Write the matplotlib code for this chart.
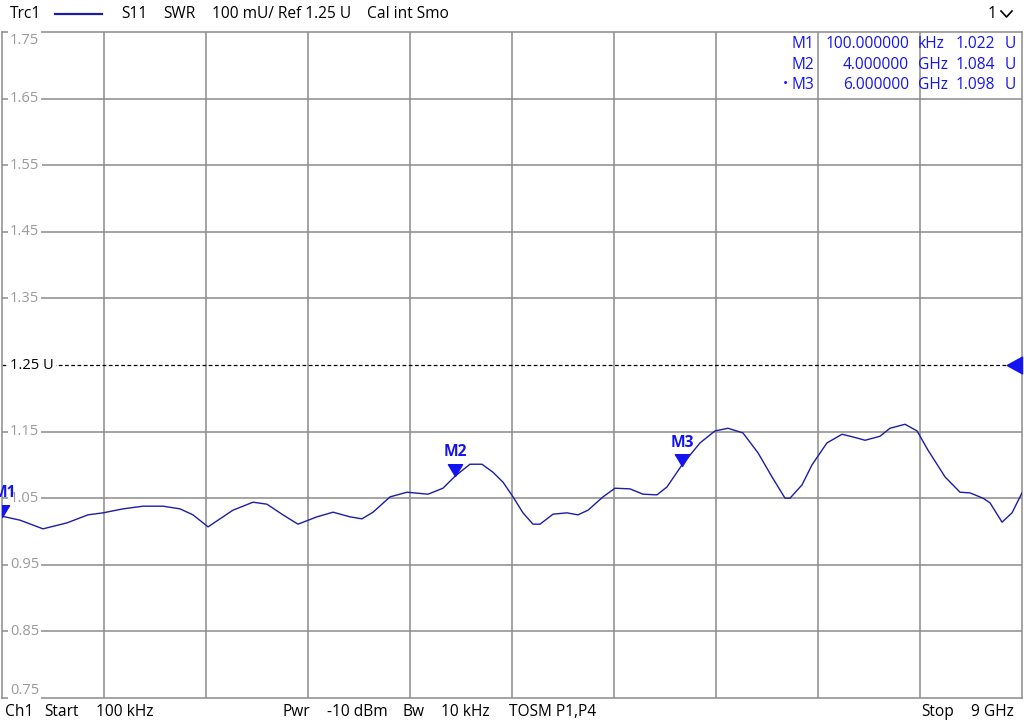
import matplotlib
matplotlib.use("Agg")
import matplotlib.pyplot as plt
from matplotlib.path import Path

plt.rcParams["font.family"] = ["Open Sans", "DejaVu Sans"]

# S11 SWR trace, frequency in GHz
freq_ghz = [0.0001, 0.159, 0.362, 0.574, 0.759, 0.891, 1.068, 1.244, 1.421, 1.571,
            1.685, 1.818, 2.038, 2.215, 2.338, 2.479, 2.612, 2.779, 2.921, 3.071,
            3.176, 3.274, 3.424, 3.574, 3.759, 3.891, 3.997, 4.129, 4.235, 4.332,
            4.421, 4.509, 4.597, 4.685, 4.747, 4.862, 4.985, 5.082, 5.171, 5.303,
            5.409, 5.541, 5.656, 5.779, 5.868, 6.000, 6.159, 6.291, 6.406, 6.538,
            6.671, 6.794, 6.909, 6.953, 7.059, 7.147, 7.279, 7.412, 7.509, 7.615,
            7.747, 7.835, 7.968, 8.074, 8.171, 8.321, 8.453, 8.541, 8.656, 8.718,
            8.824, 8.912, 9.000]
swr = [1.023, 1.017, 1.004, 1.013, 1.025, 1.028, 1.034, 1.038, 1.038, 1.034,
       1.025, 1.007, 1.032, 1.044, 1.041, 1.025, 1.011, 1.022, 1.029, 1.022,
       1.019, 1.029, 1.052, 1.059, 1.056, 1.065, 1.083, 1.101, 1.101, 1.089,
       1.074, 1.052, 1.028, 1.011, 1.011, 1.026, 1.028, 1.025, 1.032, 1.052,
       1.065, 1.064, 1.056, 1.055, 1.067, 1.100, 1.133, 1.151, 1.155, 1.148,
       1.118, 1.082, 1.050, 1.050, 1.070, 1.100, 1.133, 1.146, 1.142, 1.137,
       1.143, 1.155, 1.161, 1.151, 1.122, 1.082, 1.059, 1.058, 1.050, 1.043,
       1.014, 1.028, 1.058]

marker_names = ["M1", "M2", "M3"]
marker_freq = [0.0001, 4.0, 6.0]
marker_swr = [1.022, 1.084, 1.098]
marker_freq_txt = ["100.000000", "4.000000", "6.000000"]
marker_unit = ["kHz", "GHz", "GHz"]

y_ticks = [0.75, 0.85, 0.95, 1.05, 1.15, 1.25, 1.35, 1.45, 1.55, 1.65, 1.75]
ref_level = 1.25
x_divs = [0.9 * i for i in range(11)]

grid_c = "#8c8c8c"
trace_c = "#1c1ca8"
mark_c = "#1414f0"
fs = 11.2

fig = plt.figure(figsize=(10.24, 7.26), dpi=100)
ax = fig.add_axes([2 / 1024, 1 - 698 / 726, 1020 / 1024, 666 / 726])
ax.set_xlim(0.0001, 9.0)
ax.set_ylim(0.75, 1.75)
ax.set_xticks([])
ax.set_yticks([])
for s in ax.spines.values():
    s.set_color(grid_c)
    s.set_linewidth(1.1)

for x in x_divs[1:-1]:
    ax.axvline(x, color=grid_c, lw=1.1, zorder=1)
for y in y_ticks[1:-1]:
    if y != ref_level:
        ax.axhline(y, color=grid_c, lw=1.1, zorder=1)
ax.axhline(ref_level, color="black", lw=0.9, ls=(0, (3, 2)), zorder=1)

# y labels inside the plot
for y in y_ticks:
    yy = y
    if y == y_ticks[-1]:
        yy = y - 0.013
    if y == y_ticks[0]:
        yy = y + 0.012
    if y == ref_level:
        ax.text(0.008, yy, "1.25 U", color="black", fontsize=10.5, va="center", ha="left",
                transform=ax.get_yaxis_transform(), zorder=3,
                bbox=dict(facecolor="white", edgecolor="none", pad=1.5))
    else:
        ax.text(0.008, yy, f"{y:.2f}", color="#9a9a9a", fontsize=10.5, va="center", ha="left",
                transform=ax.get_yaxis_transform(), zorder=3,
                bbox=dict(facecolor="white", edgecolor="none", pad=1.5))

ax.plot(freq_ghz, swr, color=trace_c, lw=1.0, zorder=4)

# marker triangles (tip at the trace)
tri_down = Path([(-0.6, 1.0), (0.6, 1.0), (0.0, 0.0), (-0.6, 1.0)],
                [Path.MOVETO, Path.LINETO, Path.LINETO, Path.CLOSEPOLY])
for name, f, v in zip(marker_names, marker_freq, marker_swr):
    ax.plot([f], [v], marker=tri_down, ms=17, color=mark_c, mec=mark_c, zorder=5)
    dx = 2 if name == "M1" else 0
    ax.annotate(name, (f, v), xytext=(dx, 17), textcoords="offset points",
                ha="center", va="center", color=mark_c, fontsize=fs,
                fontweight="bold", zorder=5, annotation_clip=False)

# reference level arrow at right edge
tri_left = Path([(0.0, -0.55), (0.0, 0.55), (-1.0, 0.0), (0.0, -0.55)],
                [Path.MOVETO, Path.LINETO, Path.LINETO, Path.CLOSEPOLY])
ax.plot([9.0], [ref_level], marker=tri_left, ms=22, color=mark_c, mec=mark_c,
        clip_on=False, zorder=6)

# marker table
rows_y = [44, 65, 85]
for i in range(3):
    ty = 1 - rows_y[i] / 726
    fig.text(814 / 1024, ty, marker_names[i], color=mark_c, fontsize=fs, ha="right", va="center")
    fig.text(909 / 1024, ty, marker_freq_txt[i], color=mark_c, fontsize=fs, ha="right", va="center")
    fig.text(918 / 1024, ty, marker_unit[i], color=mark_c, fontsize=fs, ha="left", va="center")
    fig.text(995 / 1024, ty, f"{marker_swr[i]:.3f}", color=mark_c, fontsize=fs, ha="right", va="center")
    fig.text(1005 / 1024, ty, "U", color=mark_c, fontsize=fs, ha="left", va="center")
fig.text(785 / 1024, 1 - 85 / 726, "\u2022", color=mark_c, fontsize=10, ha="center", va="center")

# header
hy = 1 - 14 / 726
fig.text(10 / 1024, hy, "Trc1", fontsize=fs, va="center")
fig.add_artist(plt.Line2D([55 / 1024, 102 / 1024], [hy, hy], color=trace_c, lw=1.6))
fig.text(121 / 1024, hy, "S11", fontsize=fs, va="center")
fig.text(163 / 1024, hy, "SWR", fontsize=fs, va="center")
fig.text(212 / 1024, hy, "100 mU/ Ref 1.25 U", fontsize=fs, va="center")
fig.text(367 / 1024, hy, "Cal int Smo", fontsize=fs, va="center")
fig.text(992 / 1024, hy, "1", fontsize=fs, va="center", ha="center")
fig.add_artist(plt.Line2D([1001 / 1024, 1006.5 / 1024, 1012 / 1024],
                          [1 - 11 / 726, 1 - 17 / 726, 1 - 11 / 726], color="black", lw=1.2))

# footer
fy = 1 - 712 / 726
footer = [("Ch1", 5), ("Start", 44), ("100 kHz", 96), ("Pwr", 283), ("-10 dBm", 327),
          ("Bw", 403), ("10 kHz", 441), ("TOSM P1,P4", 509), ("Stop", 921), ("9 GHz", 971)]
for txt, x in footer:
    fig.text(x / 1024, fy, txt, fontsize=fs, va="center")

fig.savefig("out.png", dpi=100)
